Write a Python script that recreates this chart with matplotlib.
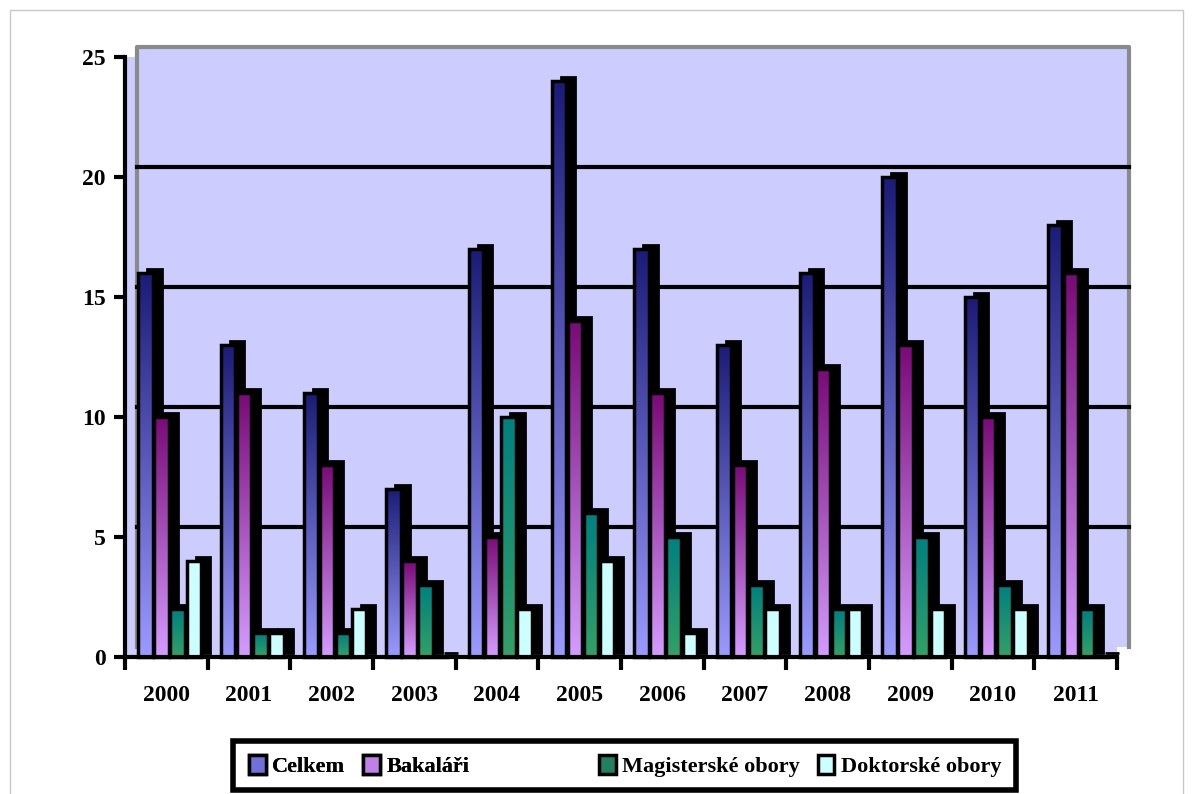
import numpy as np
import matplotlib
matplotlib.use("Agg")
import matplotlib.pyplot as plt
from matplotlib.patches import Rectangle, Patch
from matplotlib.lines import Line2D
from matplotlib.transforms import ScaledTranslation
from matplotlib.colors import LinearSegmentedColormap

# --- data -------------------------------------------------------------
years = ["2000", "2001", "2002", "2003", "2004", "2005",
         "2006", "2007", "2008", "2009", "2010", "2011"]
celkem = [16, 13, 11, 7, 17, 24, 17, 13, 16, 20, 15, 18]
bakalari = [10, 11, 8, 4, 5, 14, 11, 8, 12, 13, 10, 16]
magisterske = [2, 1, 1, 3, 10, 6, 5, 3, 2, 5, 3, 2]
doktorske = [4, 1, 2, 0, 2, 4, 1, 2, 2, 2, 2, 0]
series_names = ["Celkem", "Bakaláři", "Magisterské obory", "Doktorské obory"]
y_ticks = [0, 5, 10, 15, 20, 25]

# gradient (bottom colour, top colour) and legend swatch colour per series
grad_colors = [("#9a9aff", "#1c1c78"),
               ("#d49cff", "#7a0a78"),
               ("#33a066", "#008080"),
               ("#ccffff", "#ccffff")]
swatch_colors = ["#7070d8", "#c080e8", "#208060", "#ccffff"]

FONT = "Liberation Serif"
W, H, DPI = 1192, 794, 100

fig = plt.figure(figsize=(W / DPI, H / DPI), dpi=DPI)
ax = fig.add_axes([125 / W, 1 - 657 / H, (1117 - 125) / W, 600 / H])
wall = "#ccccff"
ax.set_facecolor(wall)

# back wall of the pseudo-3D chart, shifted up and to the right
wall_off = ScaledTranslation(12 / DPI, 10 / DPI, fig.dpi_scale_trans)
ax.add_patch(Rectangle((0, 0), 1, 1, transform=ax.transAxes + wall_off,
                       facecolor=wall, edgecolor="none", zorder=0.2,
                       clip_on=False))
ax.add_line(Line2D([0, 0, 1, 1], [0, 1, 1, 0], transform=ax.transAxes + wall_off,
                   color="#8a8a8a", lw=3, zorder=0.3, clip_on=False))
for t in y_ticks[1:-1]:
    ax.add_line(Line2D([0, 1], [t / 25, t / 25],
                       transform=ax.transAxes + wall_off,
                       color="black", lw=3, zorder=0.4, clip_on=False))

# --- bars ------------------------------------------------------------
series = [celkem, bakalari, magisterske, doktorske]
x = np.arange(len(years))
width = 0.175
step = 0.195
start = -0.34
shadow_off = ScaledTranslation(9 / DPI, 4 / DPI, fig.dpi_scale_trans)
grad = np.linspace(0, 1, 128).reshape(-1, 1)

for i, vals in enumerate(series):
    cmap = LinearSegmentedColormap.from_list(f"s{i}", grad_colors[i])
    for xc, v in zip(x, vals):
        x0 = xc + start + i * step
        z = 2 + i * 0.1
        ax.add_patch(Rectangle((x0, 0), width, v, facecolor="black",
                               edgecolor="black", lw=2,
                               transform=ax.transData + shadow_off,
                               zorder=z, clip_on=False))
        if v > 0:
            ax.imshow(grad, extent=(x0, x0 + width, 0, v), origin="lower",
                      aspect="auto", cmap=cmap, vmin=0, vmax=1,
                      interpolation="bilinear", zorder=z + 0.02)
        ax.add_patch(Rectangle((x0, 0), width, v, facecolor="none",
                               edgecolor="black", lw=2.5, zorder=z + 0.04,
                               clip_on=False))

ax.set_xlim(-0.5, len(years) - 0.5)
ax.set_ylim(0, 25)

# --- axes ------------------------------------------------------------
for s in ("top", "right"):
    ax.spines[s].set_visible(False)
for s in ("left", "bottom"):
    ax.spines[s].set_linewidth(3)
    ax.spines[s].set_zorder(5)

ax.set_yticks(y_ticks)
ax.set_yticklabels([str(t) for t in y_ticks], fontfamily=FONT,
                   fontweight="bold", fontsize=17)
ax.set_xticks(x)
ax.set_xticklabels(years, fontfamily=FONT, fontweight="bold", fontsize=17)
ax.set_xticks(np.arange(len(years) + 1) - 0.5, minor=True)
ax.tick_params(axis="y", length=8, width=3, pad=6)
ax.tick_params(axis="x", which="major", length=0, pad=20)
ax.tick_params(axis="x", which="minor", length=9, width=3)

# --- legend ----------------------------------------------------------
fig.patches.append(Rectangle((233 / W, 1 - 790 / H), (1016 - 233) / W,
                             (790 - 741) / H, transform=fig.transFigure,
                             facecolor="white", edgecolor="black", lw=4))
handles = [Patch(facecolor=c, edgecolor="black", lw=2.5) for c in swatch_colors]
leg_kw = dict(frameon=False, ncol=2, handlelength=0.75, handleheight=0.9,
              handletextpad=0.3, columnspacing=0.8, borderaxespad=0,
              prop={"family": FONT, "weight": "bold", "size": 16})
leg1 = fig.legend(handles[:2], series_names[:2], loc="center left",
                  bbox_to_anchor=(240 / W, 1 - 766 / H), **leg_kw)
fig.add_artist(leg1)
fig.legend(handles[2:], series_names[2:], loc="center left",
           bbox_to_anchor=(590 / W, 1 - 766 / H), **leg_kw)

# thin frame around the whole chart area
fig.patches.append(Rectangle((10 / W, -0.05), (1183 - 10) / W, 1.05 - 10 / H,
                             transform=fig.transFigure, facecolor="none",
                             edgecolor="#c8c8c8", lw=1))

fig.savefig("out.png", dpi=DPI)
